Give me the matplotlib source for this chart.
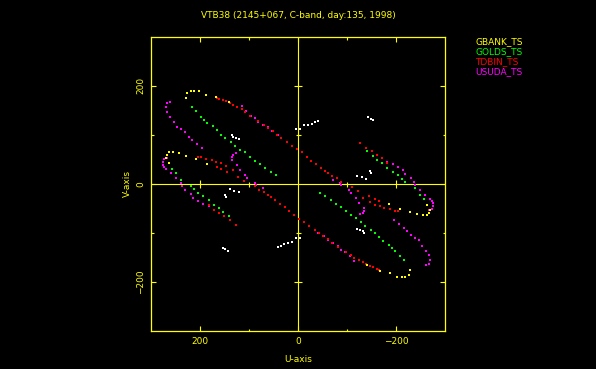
import numpy as np
import matplotlib
matplotlib.use("Agg")
import matplotlib.pyplot as plt

title = "VTB38 (2145+067, C-band, day:135, 1998)"
stations = ["GBANK_TS", "GOLDS_TS", "TDBIN_TS", "USUDA_TS"]
colors = ["#ffff00", "#00ff00", "#ff0000", "#ff00ff"]

# uv points (one half; conjugates are plotted as -u, -v)
gbank_u = [228, 226, 219, 211, 201, 187, 168, 141, 269, 267, 262, 254, 242, 228, 207, 185, 262]
gbank_v = [176, 185, 189, 189, 189, 182, 178, 166, 53, 59, 64, 64, 62, 57, 51, 41, 43]

golds_u = [215, 207, 197, 191, 185, 174, 166, 156, 148, 137, 129, 119, 109, 98, 88, 78, 68, 55, 45,
           256, 248, 238,
           -141, -152, -162, -172, -182, -193, -203, -211, -219]
golds_v = [156, 148, 137, 131, 125, 117, 109, 100, 94, 86, 78, 70, 64, 55, 47, 41, 33, 25, 18,
           31, 23, 8,
           66, 57, 49, 43, 33, 25, 18, 10, 4]

tdbin_u = [166, 160, 152, 146, 139, 133, 125, 115, 107, 98, 82, 70, 62, 51, 43, 35, 23, 12, 2,
           -8, -18, -27, -37, -47, -55, -62, -70, -80, -88,
           203, 197, 187, 176, 168, 166, 156, 156, 146, 144, 133, 123, 111,
           -127, -139, -150, -162, -172, -182]
tdbin_v = [176, 174, 170, 168, 164, 160, 156, 152, 146, 139, 129, 121, 113, 107, 100, 94, 86, 78, 72,
           64, 55, 47, 41, 33, 27, 23, 16, 12, 4,
           55, 55, 51, 49, 45, 35, 43, 31, 37, 25, 29, 14, 6,
           84, 74, 66, 59, 53, 43]

usuda_u = [267, 260, 269, 267, 260, 252, 246, 238, 230, 223, 215, 205, 195,
           267, 273, 275, 275, 273, 269, 258, 248, 238,
           135, 135, 133, 127, 125, 119, 109, 103, 88,
           115, 105, 96, 88, 82, 72, 62, 53, 41, -72, -86,
           -182, -193, -203, -213, -219, -230, -236]
usuda_v = [164, 166, 156, 146, 137, 127, 115, 111, 105, 96, 90, 82, 74,
           53, 51, 45, 39, 35, 31, 23, 12, 2,
           49, 55, 59, 62, 39, 29, 18, 12, 2,
           158, 148, 139, 135, 127, 121, 115, 107, 100, 8, 2,
           45, 41, 35, 29, 20, 12, 4]

other_u = [135, 133, 127, 121, 4, -4, -12, -20, -29, -35, -41, -143, -148, -152, -146, -148, -121, -131, -139]
other_v = [100, 96, 94, 92, 111, 111, 119, 121, 123, 127, 129, 137, 133, 131, 27, 23, 16, 14, 10]

fig = plt.figure(figsize=(5.96, 3.69), dpi=100, facecolor="black")
ax = fig.add_axes([0.253, 0.103, 0.494, 0.7975])
ax.set_facecolor("black")

yel = "#ffff00"
ax.axhline(0, color=yel, lw=0.8, zorder=1)
ax.axvline(0, color=yel, lw=0.8, zorder=1)
# ticks on the zero lines
ax.plot([200, -200], [0, 0], ls="none", marker="|", ms=5.8, mew=0.8, color=yel)
ax.plot([100, -100], [0, 0], ls="none", marker="|", ms=3.6, mew=0.8, color=yel)
ax.plot([0, 0], [200, -200], ls="none", marker="_", ms=5.8, mew=0.8, color=yel)
ax.plot([0, 0], [100, -100], ls="none", marker="_", ms=3.6, mew=0.8, color=yel)

def uvplot(u, v, c):
    u = np.array(u); v = np.array(v)
    ax.plot(np.r_[u, -u], np.r_[v, -v], ls="none", marker="s", ms=1.8, mew=0, color=c, zorder=3)

uvplot(other_u, other_v, "white")
uvplot(golds_u, golds_v, colors[1])
uvplot(usuda_u, usuda_v, colors[3])
uvplot(tdbin_u, tdbin_v, colors[2])
uvplot(gbank_u, gbank_v, colors[0])

ax.set_xlim(300, -300)
ax.set_ylim(-300, 300)
ax.set_xticks([200, 0, -200])
ax.set_xticks([100, -100], minor=True)
ax.set_yticks([-200, 0, 200])
ax.set_yticks([-100, 100], minor=True)
ax.tick_params(which="both", direction="in", top=True, right=True, colors=yel,
               labelsize=6.5, width=0.8, pad=4)
ax.tick_params(which="major", length=3.6)
ax.tick_params(which="minor", length=1.8)
for lab in ax.get_yticklabels():
    lab.set_rotation(90)
    lab.set_va("center")
for s in ax.spines.values():
    s.set_color(yel)
    s.set_linewidth(0.9)

ax.set_xlabel("U-axis", color=yel, fontsize=6.5)
ax.set_ylabel("V-axis", color=yel, fontsize=6.5)
ax.xaxis.set_label_coords(0.5, -0.08)
ax.yaxis.set_label_coords(-0.065, 0.5)

fig.text(298 / 596, 1 - 16 / 369, title, color=yel, fontsize=6.5, ha="center", va="center")
for i, (name, c) in enumerate(zip(stations, colors)):
    fig.text(475 / 596, 1 - (42 + 10 * i) / 369, name, color=c, fontsize=6.5, ha="left", va="center")

fig.savefig("out.png", dpi=100, facecolor="black")
